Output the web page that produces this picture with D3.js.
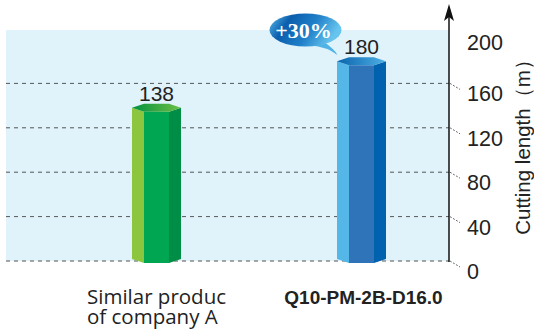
<!DOCTYPE html>
<html><head><meta charset="utf-8">
<script src="https://cdn.jsdelivr.net/npm/d3@7"></script>
<style>body{margin:0;background:#fff}svg{display:block}</style>
</head><body>
<svg id="c" width="534" height="333"></svg>
<script>
const categories = ["Similar produc|of company A", "Q10-PM-2B-D16.0"];
const values = [138, 180];
const tickValues = [0, 40, 80, 120, 160, 200];
const gridValues = [0, 40, 80, 120, 160];
const badgeText = "+30%";
const yTitle = "Cutting length（m）";
const palettes = [
  {l:"#8cc63f", m:"#00a651", r:"#008d45", c0:"#00913f", c1:"#6fbf44"},
  {l:"#55b6e8", m:"#2f74b9", r:"#0062ae", c0:"#0a63ad", c1:"#4fb0e4"}
];

const svg = d3.select("#c");
const y = d3.scaleLinear().domain([0, 200]).range([261, 39]);
const x = d3.scalePoint().domain(categories).range([156.5, 361.5]);
const axisX = 449, leftX = 6;
const bw = 49, side = 12, capH = 4;
const narrow = "Liberation Sans Narrow, Arial Narrow, sans-serif";

const defs = svg.append("defs");
palettes.forEach((p,i)=>{
  const g = defs.append("linearGradient").attr("id","cap"+i).attr("x1","0").attr("x2","1");
  g.append("stop").attr("offset","0").attr("stop-color",p.c0);
  g.append("stop").attr("offset","1").attr("stop-color",p.c1);
});
const bg = defs.append("linearGradient").attr("id","bub").attr("x1","0").attr("y1","0").attr("x2","1").attr("y2","0.3");
bg.append("stop").attr("offset","0").attr("stop-color","#5cbdec");
bg.append("stop").attr("offset","0.3").attr("stop-color","#0b5ead");
bg.append("stop").attr("offset","0.65").attr("stop-color","#1f7fc8");
bg.append("stop").attr("offset","1").attr("stop-color","#66c4ee");

// background
svg.append("rect").attr("x",leftX).attr("y",30).attr("width",axisX-leftX).attr("height",y(0)-30).attr("fill","#e0f2fa");

// grid
svg.selectAll(".grid").data(gridValues).join("line")
  .attr("x1",leftX).attr("x2",axisX).attr("y1",d=>y(d)).attr("y2",d=>y(d))
  .attr("stroke","#555").attr("stroke-width",1).attr("stroke-dasharray","4,4");

// bars
const bars = svg.selectAll(".bar").data(values).join("g");
bars.each(function(v,i){
  const g = d3.select(this), p = palettes[i];
  const cx = x(categories[i]), x0 = cx-bw/2, x1 = cx+bw/2, top = y(v), bot = y(0);
  g.append("polygon").attr("points",[[x0,top],[x0+side,top+capH],[x0+side,bot+2],[x0,bot-2]].join(" ")).attr("fill",p.l);
  g.append("polygon").attr("points",[[x0+side,top+capH],[x1-side,top+capH],[x1-side,bot+2],[x0+side,bot+2]].join(" ")).attr("fill",p.m);
  g.append("polygon").attr("points",[[x1-side,top+capH],[x1,top],[x1,bot-2],[x1-side,bot+2]].join(" ")).attr("fill",p.r);
  g.append("polygon").attr("points",[[x0,top],[x0+side,top-capH],[x1-side,top-capH],[x1,top],[x1-side,top+capH],[x0+side,top+capH]].join(" ")).attr("fill","url(#cap"+i+")");
  g.append("text").attr("x",cx).attr("y",top-capH-3).attr("text-anchor","middle")
    .attr("font-family",narrow).attr("font-size",21).attr("fill","#222").text(v);
});

// badge
const bx = x(categories[1]) - 56, by = 30;
svg.append("path").attr("d",`M${bx+16},${by+10} Q${bx+30},${by+20} ${bx+32},${by+25} Q${bx+22},${by+17} ${bx+4},${by+15} Z`).attr("fill","#4fb3e6");
svg.append("ellipse").attr("cx",bx).attr("cy",by).attr("rx",36).attr("ry",16.5).attr("fill","url(#bub)");
svg.append("text").attr("x",bx-2).attr("y",by+8).attr("text-anchor","middle")
  .attr("font-family","Liberation Serif, Times New Roman, serif").attr("font-weight","bold").attr("font-size",22).attr("fill","#fff").text(badgeText);

// axis
svg.append("line").attr("x1",axisX).attr("x2",axisX).attr("y1",y(0)+1).attr("y2",14).attr("stroke","#111").attr("stroke-width",1.5);
svg.append("path").attr("d",`M${axisX},4 L${axisX+5},21 L${axisX},17 L${axisX-5},21 Z`).attr("fill","#111");

// tick labels
const tk = svg.selectAll(".tk").data(tickValues).join("g");
tk.filter(d=>d!==200).append("line").attr("x1",axisX+1).attr("y1",d=>y(d)).attr("x2",axisX+11).attr("y2",d=>y(d)+6)
  .attr("stroke","#444").attr("stroke-width",0.8).attr("stroke-dasharray","2,1.5");
tk.append("text").attr("x",467).attr("y",d=>d===200?y(d)+11:y(d)+18)
  .attr("font-family",narrow).attr("font-size",21.5).attr("fill","#222").text(d=>d);

// y title
svg.append("text").attr("transform","translate(530,142) rotate(-90)").attr("text-anchor","middle")
  .attr("font-family",narrow).attr("font-size",20.5).attr("fill","#222").text(yTitle);

// category labels
categories.forEach((c,i)=>{
  const lines = c.split("|");
  const t = svg.append("text").attr("y",304).attr("fill","#222");
  if(i===0){
    t.attr("font-family","Open Sans, sans-serif").attr("font-size",20.5);
    lines.forEach((l,j)=>{
      t.append("tspan").attr("x",87).attr("dy",j===0?0:19.5).text(l);
    });
  } else {
    t.attr("font-family","Liberation Sans, Arial, sans-serif").attr("font-weight","bold").attr("font-size",19)
      .attr("x",x(c)+2).attr("text-anchor","middle").text(lines[0]);
  }
});
</script>
</body></html>
